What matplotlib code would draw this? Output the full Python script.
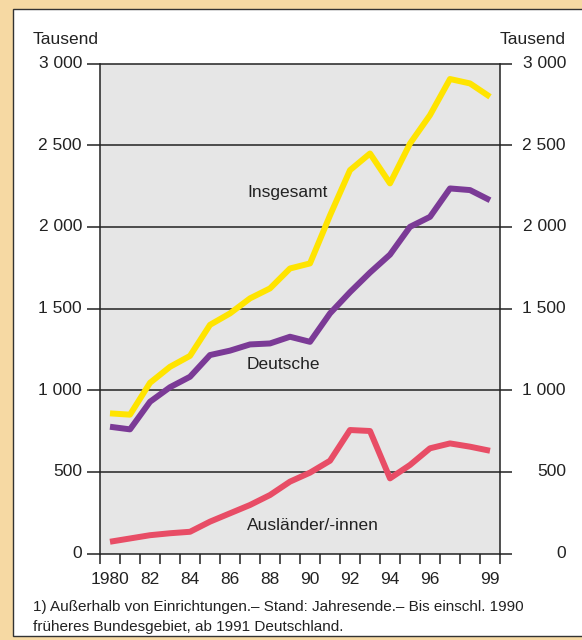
import numpy as np
import matplotlib
matplotlib.use('Agg')
import matplotlib.pyplot as plt
from matplotlib.patches import Rectangle
from matplotlib.transforms import blended_transform_factory

plt.rcParams['font.family'] = ['Liberation Sans', 'DejaVu Sans']

# data (Tausend)
years = list(range(1980, 2000))
insgesamt = [858, 850, 1045, 1143, 1210, 1400, 1470, 1562, 1623, 1745, 1776,
             2070, 2347, 2449, 2266, 2510, 2684, 2905, 2878, 2796]
deutsche = [776, 760, 929, 1018, 1082, 1215, 1242, 1280, 1286, 1327, 1296,
            1470, 1600, 1720, 1830, 2000, 2061, 2235, 2225, 2163]
auslaender = [72, 92, 112, 124, 133, 195, 246, 297, 358, 440, 495,
              568, 756, 750, 460, 542, 644, 674, 654, 629]
year_labels = ['1980', '82', '84', '86', '88', '90', '92', '94', '96', '99']
label_years = [1980, 1982, 1984, 1986, 1988, 1990, 1992, 1994, 1996, 1999]
yticks = [0, 500, 1000, 1500, 2000, 2500, 3000]
ytick_labels = ['0', '500', '1 000', '1 500', '2 000', '2 500', '3 000']

W, H = 582, 640
fig = plt.figure(figsize=(W / 100, H / 100), dpi=100)
fig.patch.set_facecolor('#F6D9A3')

# white panel behind everything
fig.patches.append(Rectangle((13 / W, 1 - 636 / H), 1, (636 - 9) / H,
                             transform=fig.transFigure, facecolor='white',
                             edgecolor='#333333', linewidth=1.0, zorder=-5))

ax = fig.add_axes([100 / W, 1 - 553.5 / H, 400 / W, 490 / H])
ax.set_facecolor('#E6E6E6')

ax.plot(years, auslaender, color='#E84D66', linewidth=4.3, solid_joinstyle='round', solid_capstyle='butt', zorder=3)
ax.plot(years, deutsche, color='#7B3A96', linewidth=4.3, solid_joinstyle='round', solid_capstyle='butt', zorder=3)
ax.plot(years, insgesamt, color='#FFE400', linewidth=4.3, solid_joinstyle='round', solid_capstyle='butt', zorder=3)

ax.set_xlim(1979.5, 1999.5)
ax.set_ylim(0, 3000)

# horizontal grid lines running past both spines
x0 = 1979.5 - 13 / 20
x1 = 1999.5 + 12 / 20
ax.hlines(yticks, x0, x1, colors='#222222', linewidth=1.1, clip_on=False, zorder=2)

for s in ['top', 'bottom']:
    ax.spines[s].set_visible(False)
for s in ['left', 'right']:
    ax.spines[s].set_color('#222222')
    ax.spines[s].set_linewidth(1.1)

ax.set_yticks([])
ax.set_xticks(label_years)
ax.set_xticklabels(year_labels, fontsize=12.5, color='#222222')
ax.set_xticks(np.arange(1979.5, 2000, 1.0), minor=True)
ax.tick_params(axis='x', which='major', length=0, pad=13)
ax.tick_params(axis='x', which='minor', length=7.2, width=1.1, color='#222222', direction='out')

# y labels on both sides
tl = blended_transform_factory(fig.transFigure, ax.transData)
for v, lab in zip(yticks, ytick_labels):
    ax.text(82 / W, v, lab, transform=tl, ha='right', va='center', fontsize=12.5, color='#222222')
    ax.text(566 / W, v, lab, transform=tl, ha='right', va='center', fontsize=12.5, color='#222222')
fig.text(33 / W, 1 - 40 / H, 'Tausend', ha='left', va='center', fontsize=12.5, color='#222222')
fig.text(566 / W, 1 - 40 / H, 'Tausend', ha='right', va='center', fontsize=12.5, color='#222222')

# series labels
ax.text(1986.85, 2212, 'Insgesamt', ha='left', va='center', fontsize=12.5, color='#222222')
ax.text(1986.85, 1160, 'Deutsche', ha='left', va='center', fontsize=12.5, color='#222222')
ax.text(1986.85, 174, 'Ausländer/-innen', ha='left', va='center', fontsize=12.5, color='#222222')

fig.text(33 / W, 1 - 607 / H, '1) Außerhalb von Einrichtungen.– Stand: Jahresende.– Bis einschl. 1990',
         ha='left', va='center', fontsize=11, color='#222222')
fig.text(33 / W, 1 - 627 / H, 'früheres Bundesgebiet, ab 1991 Deutschland.',
         ha='left', va='center', fontsize=11, color='#222222')

fig.savefig('out.png', dpi=100, facecolor=fig.get_facecolor())
